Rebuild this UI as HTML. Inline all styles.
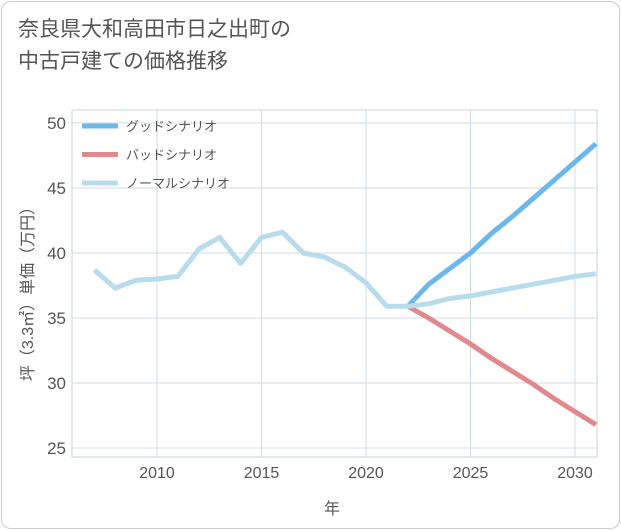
<!DOCTYPE html>
<html><head><meta charset="utf-8">
<style>
html,body{margin:0;padding:0;background:#fff;}
body{width:621px;height:530px;overflow:hidden;font-family:"Liberation Sans","Noto Sans CJK JP",sans-serif;}
.frame{position:absolute;left:1px;top:1px;width:617px;height:526px;border:1px solid #ccc;border-radius:10px;}
.title{position:absolute;left:18px;top:14px;font-size:21px;line-height:32px;color:#555;}
</style></head><body>
<div class="frame"></div>
<div class="title">奈良県大和高田市日之出町の<br>中古戸建ての価格推移</div>
<svg id="chart" width="621" height="530" style="position:absolute;left:0;top:0"></svg>
<script>
const years=[2007,2008,2009,2010,2011,2012,2013,2014,2015,2016,2017,2018,2019,2020,2021,2022,2023,2024,2025,2026,2027,2028,2029,2030,2031];
const normalVals=[38.7,37.3,37.9,38.0,38.2,40.3,41.2,39.2,41.2,41.6,40.0,39.7,38.9,37.7,35.9,35.9,36.1,36.5,36.7,37.0,37.3,37.6,37.9,38.2,38.4];
const futureYears=[2022,2023,2024,2025,2026,2027,2028,2029,2030,2031];
const goodVals=[35.9,37.6,38.8,40.0,41.5,42.8,44.2,45.6,47.0,48.4];
const badVals=[35.9,35.0,34.0,33.0,31.9,30.9,29.9,28.8,27.8,26.8];
const xTicks=[2010,2015,2020,2025,2030];
const yTicks=[25,30,35,40,45,50];
const legendLabels=["グッドシナリオ","バッドシナリオ","ノーマルシナリオ"];
const colors=["#6cb8ec","#e08a90","#b9dcec"];
const L=72,R=597,T=110,B=457;
const xs=y=>157+(y-2010)*20.9;
const ys=v=>448-(v-25)*13;
const svg=document.getElementById('chart');
const NS='http://www.w3.org/2000/svg';
function mk(t,a){const e=document.createElementNS(NS,t);for(const k in a)e.setAttribute(k,a[k]);svg.appendChild(e);return e;}
let e;
e=mk('rect',{x:L,y:T,width:R-L,height:B-T,fill:'none',stroke:'#c8d3dc'});


yTicks.forEach(v=>{
 e=mk('line',{x1:L,x2:R,y1:ys(v),y2:ys(v),stroke:'#d2dde6'});
 
 
 e=mk('text',{x:L-6,y:ys(v)+6,'text-anchor':'end','font-size':'17',fill:'#555'});e.textContent=v;
 
 
});
xTicks.forEach(v=>{
 e=mk('line',{x1:xs(v),x2:xs(v),y1:T,y2:B,stroke:'#d2dde6'});
 
 
 e=mk('text',{x:xs(v),y:B+21,'text-anchor':'middle','font-size':'16',fill:'#555'});e.textContent=v;
 
 
});
e=mk('text',{x:332,y:514,'text-anchor':'middle','font-size':'16',fill:'#555'});e.textContent='年';


e=mk('text',{x:0,y:0,'text-anchor':'middle','font-size':'16',fill:'#555',transform:'translate(33,290) rotate(-90)'});e.textContent='坪（3.3㎡）単価（万円）';


function line(xv,yv,c,name){
 const d=xv.map((x,i)=>(i?'L':'M')+xs(x).toFixed(1)+','+ys(yv[i]).toFixed(1)).join(' ');
 const p=mk('path',{d:d,fill:'none',stroke:c,'stroke-width':'5','stroke-linejoin':'round'});
 
 
}
line(futureYears,badVals,colors[1],'bad-scenario-line');
line(futureYears,goodVals,colors[0],'good-scenario-line');
line(years,normalVals,colors[2],'normal-scenario-line');
legendLabels.forEach((lab,i)=>{
 const y=126+i*28.5;
 e=mk('line',{x1:82,x2:118,y1:y,y2:y,stroke:colors[i],'stroke-width':'5'});
 
 
 e=mk('text',{x:126,y:y+5,'font-size':'13',fill:'#555'});e.textContent=lab;
 
 
});
</script>
</body></html>
